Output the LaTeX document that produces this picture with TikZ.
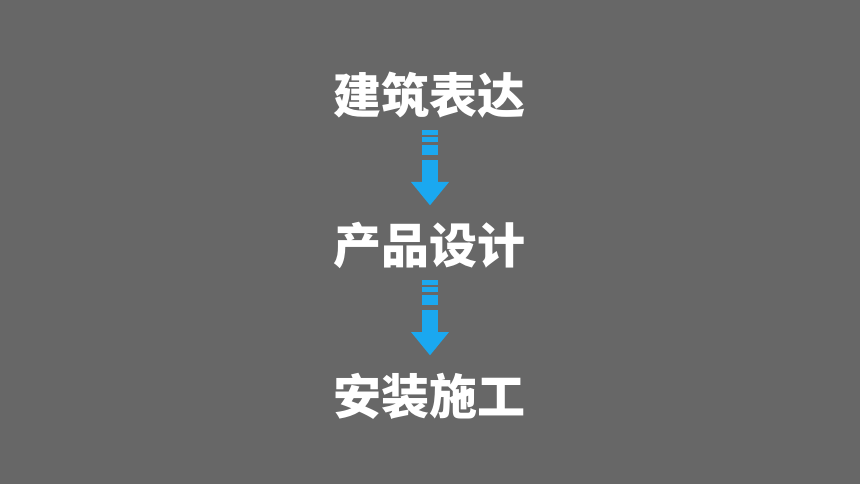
\documentclass[tikz,border=0pt]{standalone}
\usepackage{fontspec}
\newfontfamily\cjk{Noto Sans CJK SC}
\definecolor{bg}{RGB}{103,103,103}
\definecolor{c0}{RGB}{26,168,240}
\tikzset{%
  step label/.style={text=white,font=\cjk\bfseries\fontsize{48}{48}\selectfont,inner sep=0pt},
  flow/.style={fill=#1,draw=none},
  flow/.default=c0
}
\NewDocumentCommand\flowarrow{O{c0}}{%
  \fill[flow=#1] (-8,0) rectangle (8,4.7);
  \fill[flow=#1] (-8,6.7) rectangle (8,12);
  \fill[flow=#1] (-8,15.3) rectangle (8,25.3);
  \fill[flow=#1] (-8,30) rectangle (8,52);
  \fill[flow=#1] (-19,52) -- (19,52) -- (0,75.3) -- cycle;
}

\begin{document}
\begin{tikzpicture}[x=1pt,y=-1pt]
  \fill[bg] (0,0) rectangle (860,484);
  \useasboundingbox (0,0) rectangle (860,484);
  \node[step label] (s0) at (429,95) {建筑表达};
  \node[step label] (s1) at (429,245) {产品设计};
  \node[step label] (s2) at (429,396) {安装施工};
  %%
  \begin{scope}[shift={(430,130)}]\flowarrow\end{scope}
  \begin{scope}[shift={(430,280)}]\flowarrow\end{scope}
\end{tikzpicture}
\end{document}
